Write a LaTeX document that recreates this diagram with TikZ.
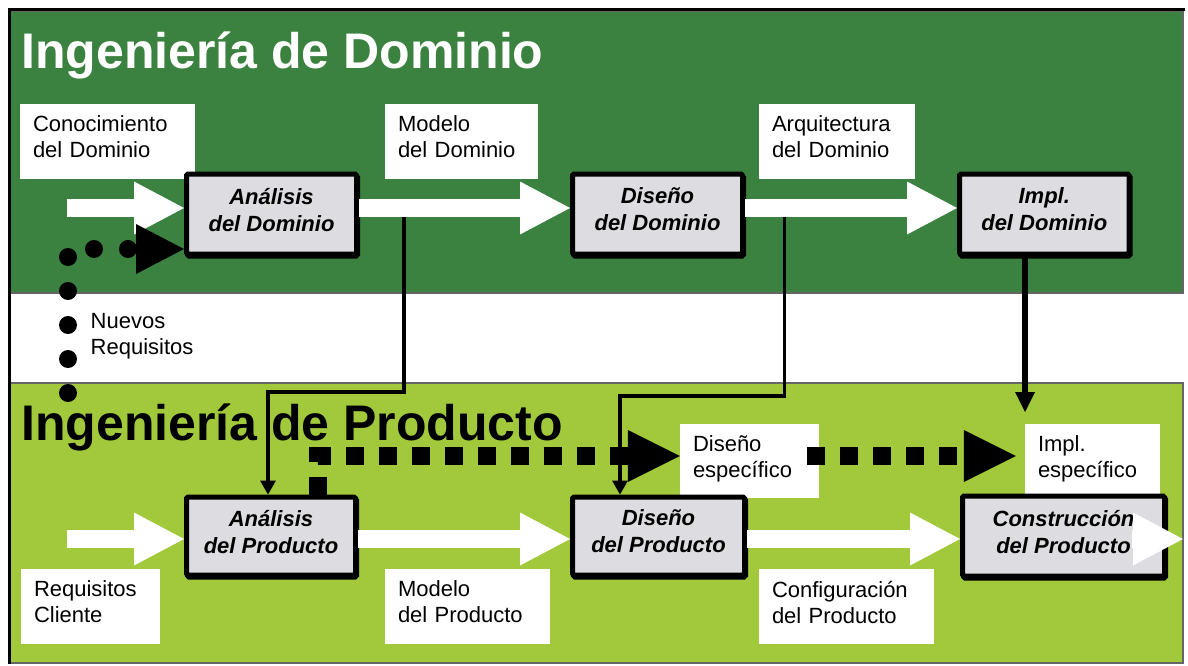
\documentclass[tikz,border=0pt]{standalone}
\usepackage{fontspec}
\setmainfont{Liberation Sans}
\usetikzlibrary{arrows.meta}
\definecolor{dgreen}{RGB}{59,130,64}
\definecolor{lgreen}{RGB}{161,201,59}
\definecolor{boxgray}{RGB}{220,220,225}
\newcommand{\dd}{\rule[-9pt]{0pt}{9pt}}
\begin{document}
\begin{tikzpicture}[x=1pt,y=-1pt,
 gbox/.style={draw=black, line width=5pt, fill=boxgray, inner sep=0pt, align=center,
   font=\fontsize{22}{27}\selectfont\bfseries\itshape, rounded corners=1.5pt,
   preaction={draw=black, fill=black, transform canvas={shift={(1pt,-2pt)}}}},
 lbox/.style={fill=white, inner xsep=13pt, inner ysep=0pt, align=left,
   font=\fontsize{22}{26}\selectfont},
 titlef/.style={font=\fontsize{50}{60}\selectfont\bfseries, inner sep=0pt, anchor=base west},
 warrow/.style={draw=white, line width=18pt, -{Triangle[length=50pt,width=53pt,line width=0pt]}},
 conn/.style={draw=black, line width=3.5pt, -{Triangle[length=14pt,width=16pt,line width=0pt]}},
 bigconn/.style={draw=black, line width=5.5pt, -{Triangle[length=20pt,width=20pt,line width=0pt]}},
 sqdash/.style={draw=black, line width=18pt, dash pattern=on 18pt off 15pt, -{Triangle[length=52pt,width=52pt,line width=0pt]}},
 dotline/.style={draw=black, line width=18pt, line cap=round, dash pattern=on 0pt off 34pt, -{Triangle[length=48pt,width=50pt,line width=0pt]}},
]
\useasboundingbox (0,0) rectangle (1188,666);
% backgrounds
\path[fill=dgreen, draw=black!60, line width=1.2pt] (10,11) rectangle (1183,293);
\path[fill=lgreen, draw=black!60, line width=1.2pt] (10,383) rectangle (1183,663);
\draw[line width=3pt] (9,664) -- (9,10) -- (1185,10);
% titles
\node[titlef, text=white] (t1) at (21,69) {Ingeniería de Dominio};
\node[titlef, text=black] (t2) at (21,440) {Ingeniería de Producto};
% labels
\node[lbox, text width=149pt, minimum height=75pt] (l1) at (107.5,141.5) {Conocimiento\\del Dominio\dd};
\node[lbox, text width=127pt, minimum height=75pt] (l2) at (461.5,141.5) {Modelo\\del Dominio\dd};
\node[lbox, text width=130pt, minimum height=75pt] (l3) at (837,141.5) {Arquitectura\\del Dominio\dd};
\node[lbox, text width=113pt, minimum height=75pt] (l4) at (90.5,606.5) {Requisitos\\Cliente\dd};
\node[lbox, text width=139pt, minimum height=75pt] (l5) at (467.5,606.5) {Modelo\\del Producto\dd};
\node[lbox, text width=149pt, minimum height=75pt] (l6) at (846.5,606.5) {Configuración\\del Producto\dd};
\node[lbox, text width=113pt, minimum height=74pt] (l7) at (749.5,461) {Diseño\\específico\dd};
\node[lbox, text width=109pt, minimum height=74pt] (l8) at (1092.5,461) {Impl.\\específico\dd};
\node[font=\fontsize{22}{26}\selectfont, align=left, inner sep=0pt, anchor=west] (nr) at (90.5,336) {Nuevos\\Requisitos};
% process boxes
\node[gbox, minimum width=170pt, minimum height=80pt] (ad) at (271.5,214) {Análisis\\del Dominio\dd};
\node[gbox, minimum width=170pt, minimum height=80pt] (dd) at (657.5,214) {Diseño\\del Dominio\dd};
\node[gbox, minimum width=169.5pt, minimum height=80pt] (id) at (1044.25,214) {Impl.\\del Dominio\dd};
\node[gbox, minimum width=169pt, minimum height=78pt] (ap) at (271,536) {Análisis\\del Producto\dd};
\node[gbox, minimum width=172pt, minimum height=78pt] (dp) at (658.5,536) {Diseño\\del Producto\dd};
\node[gbox, minimum width=202pt, minimum height=80pt] (cp) at (1063.5,536) {Construcción\\del Producto\dd};
% coordinates
\coordinate (s1) at (67,208);
\coordinate (s2) at (67,539);
\coordinate (m1) at (404,208);
\coordinate (k1) at (268,392);
\coordinate (m2) at (784.5,208);
\coordinate (k2) at (620,396);
\coordinate (ie) at (1025,412);
\coordinate (nq) at (68,393);
\coordinate (o1) at (1132,539);
\coordinate (out) at (1183,539);
% thin connectors
\draw[conn] (m1) |- (k1) -- (k1 |- ap.north);
\draw[conn] (m2) |- (k2) -- (k2 |- dp.north);
\draw[bigconn] (id.south -| ie) -- (ie);
% white block arrows
\draw[warrow] (s1) -- (s1 -| ad.west);
\draw[warrow] (ad.east |- s1) -- (dd.west |- s1);
\draw[warrow] (dd.east |- s1) -- (id.west |- s1);
\draw[warrow] (s2) -- (s2 -| ap.west);
\draw[warrow] (ap.east |- s2) -- (dp.west |- s2);
\draw[warrow] (dp.east |- s2) -- (cp.west |- s2);
\draw[warrow] (o1) -- (out);
% dashed / dotted connectors
\draw[sqdash] ([xshift=47pt]ap.north) |- ([yshift=5pt]l7.west);
\draw[sqdash, shorten <=-12pt, shorten >=9pt] ([yshift=5pt]l7.east) -- ([yshift=5pt]l8.west);
\draw[dotline] (nq) |- ([yshift=-35pt]ad.west);
\end{tikzpicture}
\end{document}
